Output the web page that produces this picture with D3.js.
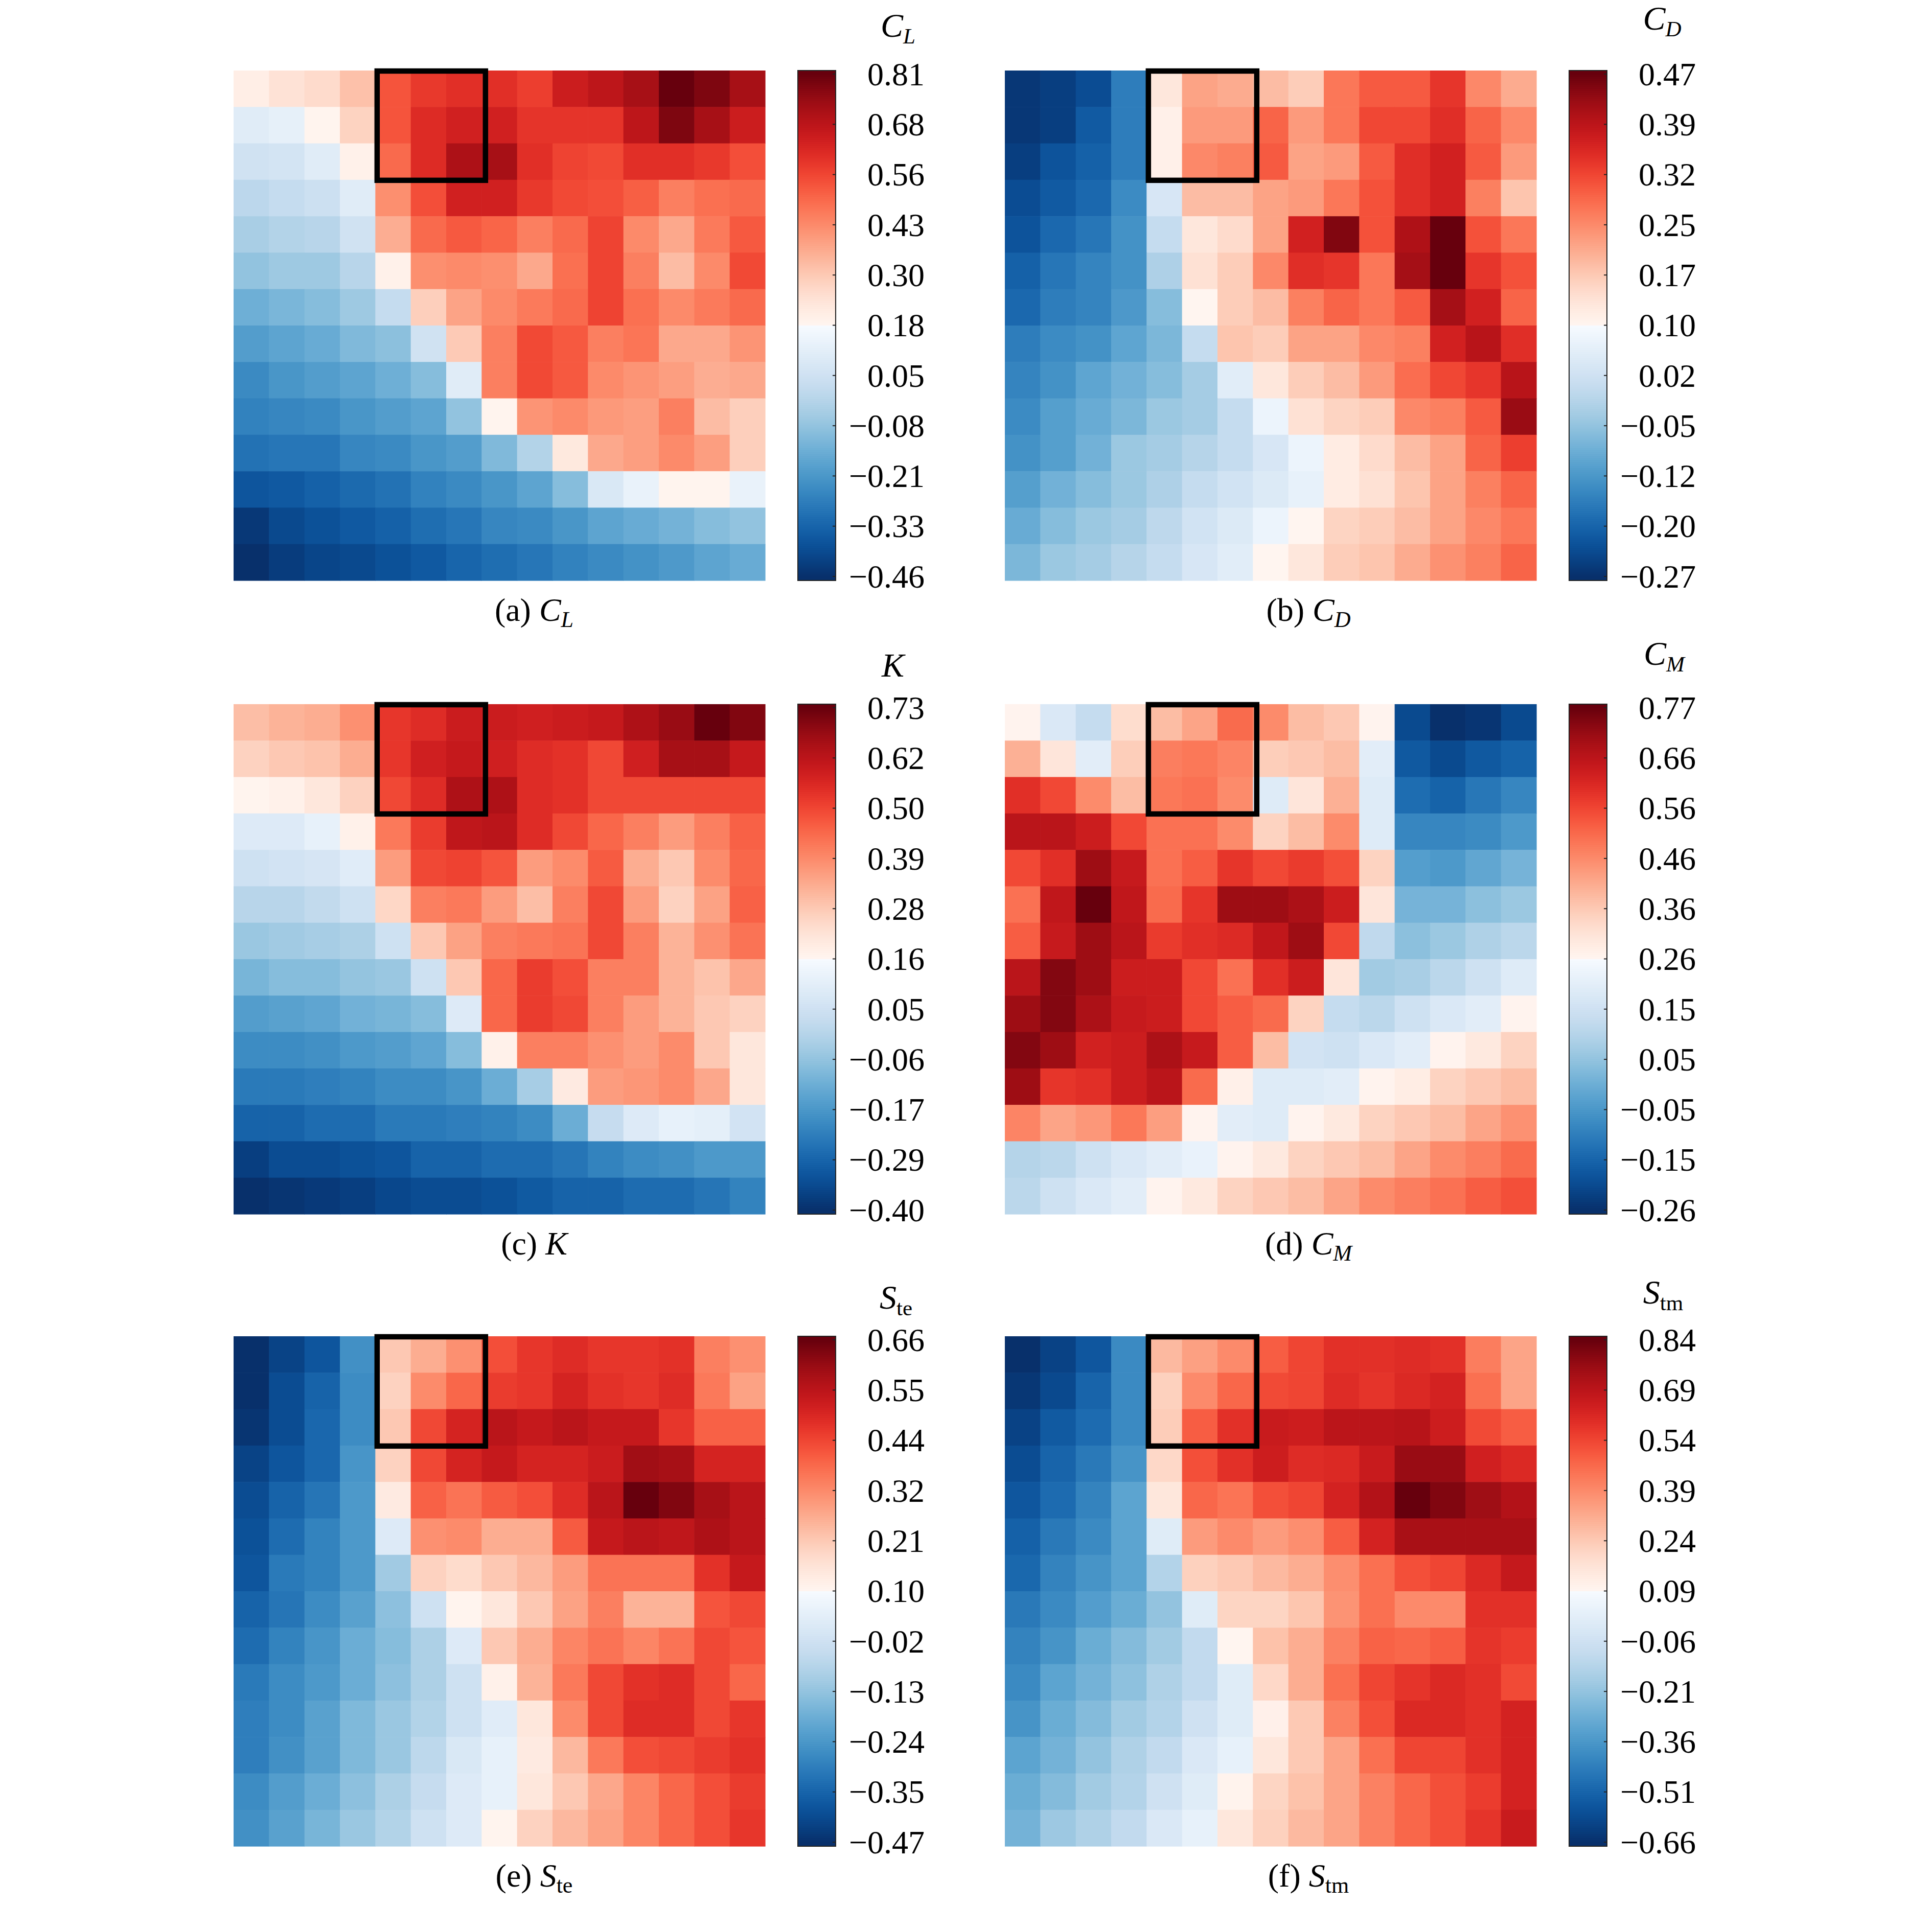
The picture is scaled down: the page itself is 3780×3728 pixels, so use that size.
<!DOCTYPE html>
<html><head><meta charset="utf-8">
<script src="https://cdn.jsdelivr.net/npm/d3@7"></script>
<style>
body{margin:0;background:#fff}
svg{display:block}
text{font-family:"Liberation Serif","Times New Roman",serif;fill:#000}
</style>
</head><body><div id="chart"></div>
<script>
// ---- data (rows top -> bottom, 15 columns) ----
const cl = [
[0.20,0.24,0.26,0.32,0.53,0.58,0.60,0.60,0.57,0.65,0.68,0.72,0.81,0.78,0.72],
[0.10,0.12,0.18,0.28,0.53,0.61,0.64,0.64,0.59,0.59,0.59,0.68,0.78,0.72,0.65],
[0.05,0.06,0.10,0.19,0.49,0.61,0.71,0.72,0.60,0.56,0.55,0.60,0.60,0.58,0.54],
[0.00,0.02,0.04,0.10,0.42,0.54,0.64,0.64,0.58,0.55,0.54,0.51,0.45,0.48,0.49],
[-0.04,-0.02,-0.01,0.05,0.36,0.49,0.52,0.50,0.45,0.49,0.56,0.43,0.37,0.46,0.52],
[-0.08,-0.06,-0.06,-0.01,0.19,0.42,0.43,0.42,0.37,0.48,0.56,0.45,0.33,0.43,0.55],
[-0.14,-0.12,-0.10,-0.06,0.02,0.29,0.38,0.43,0.46,0.49,0.56,0.48,0.43,0.46,0.49],
[-0.19,-0.17,-0.15,-0.11,-0.09,0.05,0.30,0.45,0.55,0.52,0.45,0.47,0.37,0.37,0.41],
[-0.24,-0.21,-0.19,-0.17,-0.14,-0.10,0.10,0.45,0.55,0.52,0.43,0.41,0.39,0.36,0.37],
[-0.26,-0.25,-0.24,-0.21,-0.19,-0.17,-0.08,0.18,0.41,0.43,0.40,0.39,0.45,0.33,0.29],
[-0.30,-0.29,-0.29,-0.25,-0.24,-0.21,-0.19,-0.11,-0.02,0.22,0.37,0.39,0.43,0.39,0.29],
[-0.37,-0.36,-0.34,-0.32,-0.30,-0.26,-0.24,-0.21,-0.17,-0.10,0.08,0.13,0.18,0.18,0.13],
[-0.44,-0.40,-0.38,-0.36,-0.34,-0.31,-0.29,-0.25,-0.24,-0.21,-0.17,-0.15,-0.13,-0.10,-0.08],
[-0.46,-0.43,-0.41,-0.40,-0.38,-0.36,-0.33,-0.31,-0.29,-0.26,-0.24,-0.22,-0.20,-0.17,-0.15]
];
const cd = [
[-0.26,-0.25,-0.23,-0.16,0.13,0.22,0.21,0.19,0.17,0.27,0.30,0.30,0.34,0.25,0.21],
[-0.26,-0.25,-0.21,-0.16,0.11,0.23,0.23,0.29,0.23,0.27,0.32,0.32,0.35,0.29,0.25],
[-0.25,-0.22,-0.20,-0.16,0.11,0.25,0.26,0.30,0.22,0.23,0.30,0.35,0.37,0.30,0.23],
[-0.23,-0.21,-0.19,-0.14,0.04,0.19,0.19,0.22,0.23,0.27,0.31,0.35,0.37,0.26,0.18],
[-0.22,-0.19,-0.17,-0.13,0.01,0.13,0.15,0.22,0.37,0.45,0.31,0.41,0.47,0.31,0.27],
[-0.20,-0.17,-0.15,-0.13,-0.02,0.14,0.17,0.25,0.35,0.34,0.27,0.42,0.47,0.34,0.31],
[-0.19,-0.16,-0.15,-0.12,-0.06,0.10,0.17,0.19,0.26,0.29,0.27,0.30,0.42,0.37,0.29],
[-0.16,-0.14,-0.13,-0.10,-0.07,0.01,0.18,0.17,0.22,0.22,0.25,0.26,0.37,0.40,0.35],
[-0.15,-0.13,-0.10,-0.08,-0.06,-0.03,0.06,0.13,0.17,0.19,0.23,0.28,0.32,0.34,0.40],
[-0.14,-0.11,-0.09,-0.07,-0.04,-0.03,0.01,0.08,0.14,0.16,0.17,0.25,0.26,0.30,0.43],
[-0.13,-0.11,-0.08,-0.04,-0.03,-0.01,0.01,0.04,0.08,0.12,0.15,0.19,0.22,0.29,0.33],
[-0.11,-0.08,-0.06,-0.04,-0.02,0.01,0.03,0.05,0.07,0.12,0.14,0.18,0.22,0.26,0.29],
[-0.09,-0.06,-0.04,-0.03,0.00,0.03,0.05,0.08,0.10,0.16,0.17,0.19,0.22,0.25,0.27],
[-0.07,-0.04,-0.03,-0.01,0.01,0.04,0.06,0.10,0.13,0.17,0.18,0.21,0.24,0.26,0.29]
];
const k = [
[0.30,0.32,0.33,0.38,0.53,0.55,0.59,0.59,0.58,0.59,0.60,0.64,0.67,0.73,0.70],
[0.26,0.28,0.29,0.33,0.53,0.58,0.60,0.58,0.55,0.54,0.50,0.58,0.65,0.65,0.60],
[0.17,0.18,0.21,0.26,0.50,0.55,0.64,0.64,0.55,0.54,0.50,0.50,0.50,0.50,0.50],
[0.09,0.09,0.12,0.18,0.42,0.52,0.61,0.62,0.55,0.50,0.45,0.41,0.36,0.41,0.46],
[0.05,0.06,0.07,0.10,0.36,0.50,0.51,0.48,0.36,0.39,0.47,0.33,0.28,0.39,0.45],
[0.00,0.00,0.02,0.05,0.25,0.41,0.42,0.36,0.30,0.41,0.50,0.36,0.26,0.35,0.46],
[-0.05,-0.04,-0.03,-0.02,0.05,0.28,0.35,0.41,0.42,0.43,0.50,0.41,0.32,0.38,0.43],
[-0.10,-0.08,-0.08,-0.06,-0.05,0.05,0.28,0.45,0.52,0.49,0.41,0.41,0.32,0.29,0.34],
[-0.16,-0.15,-0.14,-0.11,-0.10,-0.08,0.09,0.45,0.52,0.50,0.41,0.36,0.32,0.28,0.26],
[-0.20,-0.20,-0.19,-0.17,-0.16,-0.14,-0.08,0.18,0.41,0.41,0.38,0.36,0.39,0.28,0.21],
[-0.24,-0.24,-0.23,-0.22,-0.20,-0.20,-0.18,-0.12,-0.03,0.20,0.36,0.37,0.39,0.34,0.21],
[-0.29,-0.29,-0.27,-0.27,-0.24,-0.24,-0.23,-0.22,-0.20,-0.12,0.03,0.09,0.12,0.11,0.06],
[-0.37,-0.34,-0.34,-0.33,-0.32,-0.29,-0.29,-0.27,-0.27,-0.25,-0.22,-0.20,-0.19,-0.17,-0.17],
[-0.40,-0.39,-0.38,-0.37,-0.35,-0.34,-0.34,-0.33,-0.31,-0.29,-0.29,-0.27,-0.27,-0.25,-0.22]
];
const cm = [
[0.26,0.18,0.13,0.32,0.38,0.42,0.51,0.46,0.38,0.36,0.26,-0.21,-0.26,-0.25,-0.21],
[0.40,0.30,0.20,0.35,0.48,0.49,0.47,0.35,0.36,0.38,0.20,-0.18,-0.21,-0.18,-0.16],
[0.60,0.56,0.46,0.38,0.49,0.50,0.46,0.19,0.30,0.40,0.19,-0.14,-0.16,-0.12,-0.09],
[0.67,0.67,0.64,0.56,0.50,0.50,0.46,0.34,0.38,0.46,0.19,-0.09,-0.09,-0.08,-0.05],
[0.56,0.60,0.71,0.65,0.50,0.53,0.59,0.56,0.58,0.55,0.34,-0.04,-0.05,-0.02,0.01],
[0.50,0.66,0.77,0.66,0.51,0.59,0.71,0.71,0.69,0.64,0.30,0.01,0.01,0.04,0.06],
[0.53,0.65,0.71,0.67,0.58,0.60,0.61,0.66,0.71,0.56,0.12,0.04,0.06,0.09,0.11],
[0.67,0.74,0.71,0.64,0.64,0.56,0.50,0.60,0.64,0.30,0.07,0.08,0.11,0.15,0.19],
[0.71,0.74,0.69,0.65,0.64,0.56,0.53,0.51,0.34,0.13,0.11,0.15,0.18,0.20,0.26],
[0.74,0.71,0.63,0.64,0.69,0.65,0.53,0.38,0.16,0.15,0.18,0.20,0.26,0.29,0.34],
[0.71,0.59,0.60,0.64,0.67,0.51,0.27,0.19,0.19,0.20,0.26,0.28,0.34,0.36,0.38],
[0.47,0.42,0.44,0.49,0.43,0.26,0.20,0.19,0.26,0.29,0.34,0.36,0.38,0.42,0.45],
[0.10,0.11,0.15,0.18,0.20,0.22,0.26,0.29,0.34,0.36,0.38,0.42,0.46,0.48,0.51],
[0.11,0.15,0.18,0.20,0.26,0.29,0.34,0.36,0.38,0.42,0.46,0.48,0.50,0.53,0.55]
];
const ste = [
[-0.47,-0.43,-0.39,-0.26,0.21,0.26,0.31,0.42,0.46,0.48,0.46,0.46,0.47,0.34,0.31],
[-0.47,-0.41,-0.36,-0.27,0.19,0.32,0.38,0.45,0.46,0.50,0.47,0.46,0.48,0.35,0.28],
[-0.46,-0.41,-0.35,-0.27,0.21,0.43,0.50,0.55,0.53,0.55,0.53,0.53,0.46,0.39,0.39],
[-0.43,-0.39,-0.35,-0.25,0.19,0.43,0.50,0.53,0.50,0.50,0.52,0.59,0.58,0.50,0.50],
[-0.41,-0.36,-0.32,-0.24,0.13,0.39,0.36,0.40,0.42,0.48,0.55,0.66,0.63,0.58,0.55],
[-0.40,-0.34,-0.29,-0.24,0.02,0.31,0.32,0.26,0.26,0.40,0.53,0.55,0.54,0.57,0.55],
[-0.39,-0.31,-0.29,-0.24,-0.11,0.19,0.17,0.21,0.24,0.29,0.36,0.36,0.36,0.47,0.53],
[-0.36,-0.32,-0.27,-0.22,-0.14,-0.02,0.10,0.14,0.21,0.28,0.34,0.25,0.25,0.41,0.43],
[-0.34,-0.29,-0.25,-0.19,-0.15,-0.09,0.02,0.21,0.26,0.33,0.36,0.33,0.36,0.43,0.41],
[-0.31,-0.27,-0.24,-0.19,-0.14,-0.09,-0.02,0.11,0.25,0.35,0.43,0.47,0.48,0.43,0.38],
[-0.30,-0.27,-0.22,-0.16,-0.12,-0.08,-0.02,0.03,0.14,0.32,0.43,0.48,0.48,0.43,0.46],
[-0.30,-0.26,-0.22,-0.16,-0.12,-0.06,0.01,0.05,0.13,0.24,0.35,0.42,0.43,0.45,0.47],
[-0.27,-0.23,-0.19,-0.14,-0.09,-0.04,0.02,0.05,0.14,0.21,0.27,0.33,0.38,0.42,0.45],
[-0.26,-0.22,-0.17,-0.12,-0.08,-0.02,0.02,0.10,0.19,0.24,0.28,0.33,0.38,0.42,0.46]
];
const stm = [
[-0.66,-0.61,-0.55,-0.40,0.28,0.34,0.39,0.49,0.54,0.59,0.59,0.60,0.59,0.42,0.33],
[-0.64,-0.59,-0.51,-0.40,0.22,0.39,0.47,0.53,0.54,0.60,0.58,0.61,0.63,0.45,0.33],
[-0.61,-0.54,-0.49,-0.40,0.23,0.49,0.59,0.66,0.65,0.69,0.69,0.70,0.65,0.53,0.49],
[-0.58,-0.51,-0.45,-0.37,0.20,0.52,0.59,0.65,0.60,0.61,0.66,0.76,0.76,0.64,0.61],
[-0.55,-0.49,-0.42,-0.32,0.15,0.47,0.44,0.52,0.54,0.63,0.71,0.84,0.80,0.75,0.71],
[-0.52,-0.45,-0.40,-0.32,0.00,0.35,0.39,0.35,0.38,0.49,0.63,0.73,0.73,0.73,0.73],
[-0.50,-0.42,-0.37,-0.32,-0.14,0.22,0.24,0.28,0.31,0.38,0.45,0.52,0.54,0.61,0.67],
[-0.45,-0.40,-0.34,-0.29,-0.21,0.00,0.21,0.21,0.25,0.37,0.45,0.39,0.39,0.59,0.59],
[-0.42,-0.37,-0.29,-0.24,-0.18,-0.10,0.09,0.26,0.31,0.41,0.48,0.47,0.49,0.58,0.56],
[-0.40,-0.32,-0.27,-0.22,-0.15,-0.10,0.00,0.20,0.31,0.45,0.54,0.58,0.61,0.59,0.53],
[-0.37,-0.29,-0.24,-0.18,-0.14,-0.06,0.00,0.11,0.24,0.41,0.52,0.61,0.61,0.59,0.63],
[-0.32,-0.27,-0.21,-0.15,-0.10,-0.02,0.03,0.15,0.24,0.33,0.45,0.54,0.54,0.59,0.63],
[-0.29,-0.24,-0.18,-0.14,-0.06,0.00,0.10,0.21,0.26,0.33,0.41,0.47,0.52,0.56,0.63],
[-0.27,-0.19,-0.15,-0.10,-0.02,0.03,0.15,0.22,0.28,0.33,0.41,0.47,0.52,0.58,0.66]
];

// colour-bar tick labels (top -> bottom)
const clTicks  = ["0.81","0.68","0.56","0.43","0.30","0.18","0.05","−0.08","−0.21","−0.33","−0.46"];
const cdTicks  = ["0.47","0.39","0.32","0.25","0.17","0.10","0.02","−0.05","−0.12","−0.20","−0.27"];
const kTicks   = ["0.73","0.62","0.50","0.39","0.28","0.16","0.05","−0.06","−0.17","−0.29","−0.40"];
const cmTicks  = ["0.77","0.66","0.56","0.46","0.36","0.26","0.15","0.05","−0.05","−0.15","−0.26"];
const steTicks = ["0.66","0.55","0.44","0.32","0.21","0.10","−0.02","−0.13","−0.24","−0.35","−0.47"];
const stmTicks = ["0.84","0.69","0.54","0.39","0.24","0.09","−0.06","−0.21","−0.36","−0.51","−0.66"];

// panel labels
const letters = ["a","b","c","d","e","f"];
const symbols = ["C","C","K","C","S","S"];
const subs    = ["L","D","","M","te","tm"];
const subItalic = [true,true,false,true,false,false];

const datasets = [cl, cd, k, cm, ste, stm];
const tickSets = [clTicks, cdTicks, kTicks, cmTicks, steTicks, stmTicks];

// ---- layout ----
const W = 3780, H = 3728;
const cols = [{x0:457, x1:1497, capDx:588}, {x0:1966, x1:3006, capDx:594}];
const rows = [{y0:138, y1:1136}, {y0:1378, y1:2376}, {y0:2615, y1:3613}];
const titleUp = [66, 80, 54, 77, 54, 64];
const titleDx = [260, 246, 250, 250, 256, 248];

const svg = d3.select("#chart").append("svg")
  .attr("width", W).attr("height", H).attr("viewBox", `0 0 ${W} ${H}`);
svg.append("rect").attr("width", W).attr("height", H).attr("fill", "#fff");

function cmap(t){
  t = Math.max(0, Math.min(1, t));
  return t < 0.5 ? d3.interpolateBlues(1 - 2*t) : d3.interpolateReds(2*t - 1);
}

function addLabel(sel, p, subFs, subDy){
  sel.append("tspan").attr("font-style","italic").text(symbols[p]);
  if (subs[p]) {
    sel.append("tspan").attr("font-style", subItalic[p] ? "italic" : "normal")
      .attr("font-size", subFs).attr("dy", subDy).text(subs[p]);
  }
}

datasets.forEach((data, p) => {
  const c = cols[p % 2], r = rows[Math.floor(p / 2)];
  const ticks = tickSets[p];
  const lo = +ticks[ticks.length-1].replace("−","-");
  const hi = +ticks[0].replace("−","-");
  const nR = data.length, nC = data[0].length;
  const x = d3.scaleBand().domain(d3.range(nC)).range([c.x0, c.x1]);
  const y = d3.scaleBand().domain(d3.range(nR)).range([r.y0, r.y1]);
  const norm = d3.scaleLinear().domain([lo, hi]).range([0, 1]);
  const g = svg.append("g");

  const cells = [];
  data.forEach((row, i) => row.forEach((v, j) => cells.push({i, j, v})));
  g.selectAll("rect.cell").data(cells).join("rect")
    .attr("class","cell")
    .attr("x", d => x(d.j)).attr("y", d => y(d.i))
    .attr("width", x.bandwidth() + 0.6).attr("height", y.bandwidth() + 0.6)
    .attr("fill", d => cmap(norm(d.v)));

  // highlight box (columns 4-6, rows 0-2)
  g.append("rect")
    .attr("x", x(4) + 3.5).attr("y", y(0) + 1)
    .attr("width", x(7) - x(4) + 4).attr("height", y(3) - y(0))
    .attr("fill","none").attr("stroke","#000").attr("stroke-width", 10.5);

  // colour bar
  const cbX = c.x1 + 64, cbW = 74;
  const cbY = d3.scaleLinear().domain([lo, hi]).range([r.y1 - 8, r.y0 + 7]);
  const nSteps = 250;
  const stepH = (r.y1 - r.y0) / nSteps;
  const steps = d3.range(nSteps).map(s => r.y0 + s*stepH);
  g.selectAll("rect.cb").data(steps).join("rect")
    .attr("class","cb")
    .attr("x", cbX).attr("y", d => d).attr("width", cbW).attr("height", stepH + 0.8)
    .attr("fill", d => cmap(norm(cbY.invert(d + stepH/2))));
  g.append("rect").attr("x", cbX).attr("y", r.y0).attr("width", cbW).attr("height", r.y1 - r.y0)
    .attr("fill","none").attr("stroke","#222").attr("stroke-width", 2);

  const tp = d3.scalePoint().domain(d3.range(ticks.length)).range([r.y0 + 7, r.y1 - 8]);
  g.selectAll("line.tk").data(ticks).join("line")
    .attr("class","tk")
    .attr("x1", cbX + cbW - 6).attr("x2", cbX + cbW)
    .attr("y1", (d,i) => tp(i)).attr("y2", (d,i) => tp(i))
    .attr("stroke","#222").attr("stroke-width", 2);
  g.selectAll("text.tl").data(ticks).join("text")
    .attr("class","tl")
    .attr("x", c.x1 + 312).attr("y", (d,i) => tp(i)).attr("dy","0.34em")
    .attr("text-anchor","end").attr("font-size", 64).text(d => d);

  // colour-bar title
  const t = g.append("text").attr("x", c.x1 + titleDx[p]).attr("y", r.y0 - titleUp[p])
    .attr("text-anchor","middle").attr("font-size", 66);
  addLabel(t, p, 43, 13);

  // caption
  const cap = g.append("text").attr("x", c.x0 + c.capDx).attr("y", r.y1 + 79)
    .attr("text-anchor","middle").attr("font-size", 64);
  cap.append("tspan").text(`(${letters[p]}) `);
  addLabel(cap, p, 44, 12);
});
</script>
</body></html>
